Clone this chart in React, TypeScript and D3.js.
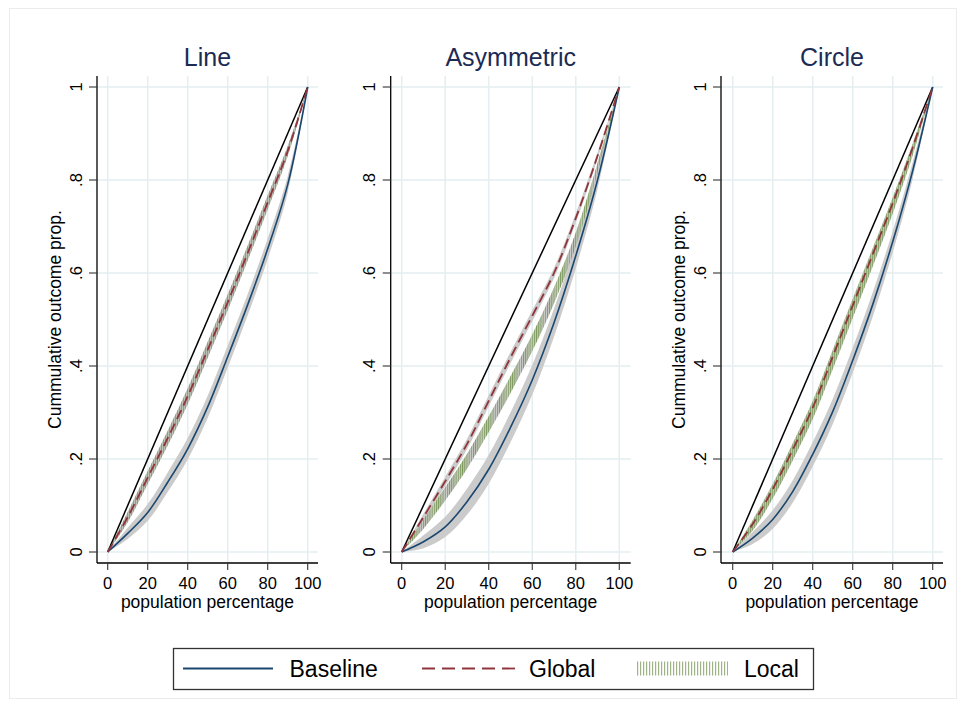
import React from 'react';
import * as d3 from 'd3';

// Shared x grid (population percentage) for every curve
const pct = [0, 10, 20, 30, 40, 50, 60, 70, 80, 90, 100];

const panelTitles = ['Line', 'Asymmetric', 'Circle'];
const xTicks = [0, 20, 40, 60, 80, 100];
const yTicks = [0, 0.2, 0.4, 0.6, 0.8, 1];
const yTickLabels = ['0', '.2', '.4', '.6', '.8', '1'];
const legendLabels = ['Baseline', 'Global', 'Local'];

// Line
const lineBaseline = [0, 0.04, 0.085, 0.15, 0.222, 0.312, 0.42, 0.532, 0.652, 0.79, 1];
const lineBaselineCI = [0, 0.012, 0.018, 0.021, 0.023, 0.024, 0.024, 0.023, 0.022, 0.018, 0];
const lineGlobal = [0, 0.075, 0.16, 0.245, 0.335, 0.435, 0.537, 0.643, 0.752, 0.862, 1];
const lineGlobalCI = [0, 0.008, 0.011, 0.012, 0.013, 0.013, 0.013, 0.012, 0.011, 0.008, 0];
const lineLocal = [0, 0.075, 0.16, 0.245, 0.335, 0.435, 0.537, 0.643, 0.752, 0.862, 1];
const lineLocalCI = [0, 0.011, 0.014, 0.016, 0.017, 0.017, 0.017, 0.016, 0.015, 0.011, 0];

// Asymmetric
const asymBaseline = [0, 0.022, 0.054, 0.108, 0.178, 0.268, 0.37, 0.493, 0.637, 0.8, 1];
const asymBaselineCI = [0, 0.014, 0.022, 0.028, 0.031, 0.032, 0.032, 0.03, 0.027, 0.02, 0];
const asymGlobal = [0, 0.075, 0.152, 0.232, 0.325, 0.418, 0.508, 0.6, 0.718, 0.852, 1];
const asymGlobalCI = [0, 0.007, 0.01, 0.011, 0.012, 0.012, 0.012, 0.011, 0.01, 0.007, 0];
const asymLocal = [0, 0.06, 0.125, 0.195, 0.275, 0.36, 0.45, 0.552, 0.672, 0.825, 1];
const asymLocalCI = [0, 0.01, 0.014, 0.016, 0.017, 0.018, 0.018, 0.017, 0.015, 0.011, 0];

// Circle
const circBaseline = [0, 0.03, 0.07, 0.13, 0.21, 0.302, 0.412, 0.532, 0.667, 0.82, 1];
const circBaselineCI = [0, 0.013, 0.02, 0.024, 0.026, 0.027, 0.027, 0.026, 0.023, 0.018, 0];
const circGlobal = [0, 0.06, 0.135, 0.22, 0.31, 0.42, 0.53, 0.64, 0.75, 0.87, 1];
const circGlobalCI = [0, 0.009, 0.012, 0.014, 0.015, 0.015, 0.015, 0.014, 0.012, 0.009, 0];
const circLocal = [0, 0.057, 0.13, 0.215, 0.305, 0.413, 0.523, 0.633, 0.745, 0.865, 1];
const circLocalCI = [0, 0.011, 0.015, 0.018, 0.019, 0.02, 0.02, 0.019, 0.017, 0.012, 0];

const panelSeries = [
  { base: lineBaseline, baseCI: lineBaselineCI, glob: lineGlobal, globCI: lineGlobalCI, loc: lineLocal, locCI: lineLocalCI },
  { base: asymBaseline, baseCI: asymBaselineCI, glob: asymGlobal, globCI: asymGlobalCI, loc: asymLocal, locCI: asymLocalCI },
  { base: circBaseline, baseCI: circBaselineCI, glob: circGlobal, globCI: circGlobalCI, loc: circLocal, locCI: circLocalCI },
];

// Plot-region geometry for each panel
const panelLayout = [
  { axisX: 97, x0: 107.7, x100: 307.7, right: 318, yTitleX: 61 },
  { axisX: 390.7, x0: 401.7, x100: 619.3, right: 630.7, yTitleX: null },
  { axisX: 721, x0: 732.7, x100: 932.7, right: 943, yTitleX: 685 },
];

const TOP = 76;
const BOTTOM = 563;
const Y0 = 552;
const Y1 = 87;

const FONT = "'Liberation Sans', Arial, Helvetica, sans-serif";
const C_BASE = '#1a476f';
const C_GLOB = '#90353b';
const C_LOC = '#7d9a5c';
const C_BAND = '#cbcbcb';
const C_GRID = '#e5eef1';
const C_TITLE = '#1c2b54';

function Panel({ idx }: { idx: number }) {
  const L = panelLayout[idx];
  const S = panelSeries[idx];
  const x = d3.scaleLinear().domain([0, 100]).range([L.x0, L.x100]);
  const y = d3.scaleLinear().domain([0, 1]).range([Y0, Y1]);
  const curve = d3.curveCatmullRom.alpha(0.5);

  const line = (vals: number[]) =>
    d3.line<number>().x((_, i) => x(pct[i])).y((v) => y(v)).curve(curve)(vals) || '';
  const band = (vals: number[], ci: number[]) =>
    d3
      .area<number>()
      .x((_, i) => x(pct[i]))
      .y0((v, i) => y(v - ci[i]))
      .y1((v, i) => y(v + ci[i]))
      .curve(curve)(vals) || '';

  const unit = x(1) - x(0);
  const patId = `spikes-${idx}`;

  return (
    <g>
      <defs>
        <pattern id={patId} patternUnits="userSpaceOnUse" x={L.x0 - 0.5} y={0} width={unit} height={10}>
          <rect x={0} y={0} width={1} height={10} fill={C_LOC} />
        </pattern>
      </defs>
      {/* grid */}
      {yTicks.map((t) => (
        <line key={'gy' + t} x1={L.axisX} x2={L.right} y1={y(t)} y2={y(t)} stroke={C_GRID} strokeWidth={1.6} />
      ))}
      {xTicks.map((t) => (
        <line key={'gx' + t} x1={x(t)} x2={x(t)} y1={TOP} y2={BOTTOM} stroke={C_GRID} strokeWidth={1.6} />
      ))}

      {/* confidence bands */}
      <path d={band(S.base, S.baseCI)} fill={C_BAND} />
      <path d={band(S.glob, S.globCI)} fill={C_BAND} />
      <path d={band(S.loc, S.locCI)} fill={C_BAND} />
      {/* local spikes */}
      <path d={band(S.loc, S.locCI)} fill={`url(#${patId})`} />

      {/* equality line */}
      <line x1={x(0)} y1={y(0)} x2={x(100)} y2={y(1)} stroke="#000" strokeWidth={1.5} />

      <path d={line(S.base)} fill="none" stroke={C_BASE} strokeWidth={1.6} />
      <path d={line(S.glob)} fill="none" stroke={C_GLOB} strokeWidth={1.8} strokeDasharray="10,5" />

      {/* axes */}
      <line x1={L.axisX} x2={L.axisX} y1={TOP} y2={BOTTOM} stroke="#000" strokeWidth={1.3} />
      <line x1={L.axisX} x2={L.right} y1={BOTTOM} y2={BOTTOM} stroke="#000" strokeWidth={1.3} />
      {yTicks.map((t, i) => (
        <g key={'ty' + t}>
          <line x1={L.axisX - 8} x2={L.axisX} y1={y(t)} y2={y(t)} stroke="#333" strokeWidth={1.1} />
          <text
            transform={`translate(${L.axisX - 15.5},${y(t)}) rotate(-90)`}
            textAnchor="middle"
            fontSize={16.5}
            fill="#000"
          >
            {yTickLabels[i]}
          </text>
        </g>
      ))}
      {xTicks.map((t) => (
        <g key={'tx' + t}>
          <line x1={x(t)} x2={x(t)} y1={BOTTOM} y2={BOTTOM + 7} stroke="#333" strokeWidth={1.1} />
          <text x={x(t)} y={588.5} textAnchor="middle" fontSize={16.5} fill="#000">
            {t}
          </text>
        </g>
      ))}
      <text x={(L.axisX + L.right) / 2} y={608} textAnchor="middle" fontSize={17.5} fill="#000">
        population percentage
      </text>
      {L.yTitleX !== null && (
        <text
          transform={`translate(${L.yTitleX},${(TOP + BOTTOM) / 2}) rotate(-90)`}
          textAnchor="middle"
          fontSize={17.5}
          fill="#000"
        >
          Cummulative outcome prop.
        </text>
      )}
      <text x={(L.axisX + L.right) / 2} y={66} textAnchor="middle" fontSize={25} fill={C_TITLE}>
        {panelTitles[idx]}
      </text>
    </g>
  );
}

function Legend() {
  const cy = 668.5;
  return (
    <g>
      <defs>
        <pattern id="legend-spikes" patternUnits="userSpaceOnUse" x={637} y={0} width={3} height={10}>
          <rect x={0} y={0} width={1.2} height={10} fill="#9fb486" />
        </pattern>
      </defs>
      <rect x={173.5} y={648.5} width={640} height={41} fill="#fff" stroke="#333" strokeWidth={1.3} />
      <line x1={183} x2={273} y1={cy} y2={cy} stroke={C_BASE} strokeWidth={1.8} />
      <text x={289.5} y={cy + 8} fontSize={23} fill="#000">
        {legendLabels[0]}
      </text>
      <line x1={422} x2={515} y1={cy} y2={cy} stroke={C_GLOB} strokeWidth={1.8} strokeDasharray="13,7" />
      <text x={529} y={cy + 8} fontSize={23} fill="#000">
        {legendLabels[1]}
      </text>
      <rect x={637} y={cy - 7} width={91} height={14} fill="url(#legend-spikes)" />
      <text x={744} y={cy + 8} fontSize={23} fill="#000">
        {legendLabels[2]}
      </text>
    </g>
  );
}

export default function App() {
  return (
    <svg
      width={966}
      height={707}
      style={{ position: 'absolute', left: 0, top: 0, background: '#fff' }}
      fontFamily={FONT}
    >
      <rect x={0} y={0} width={966} height={707} fill="#fff" />
      <rect x={9.5} y={8.5} width={947} height={690} fill="none" stroke="#ececec" strokeWidth={1} />
      {[0, 1, 2].map((i) => (
        <Panel key={i} idx={i} />
      ))}
      <Legend />
    </svg>
  );
}
